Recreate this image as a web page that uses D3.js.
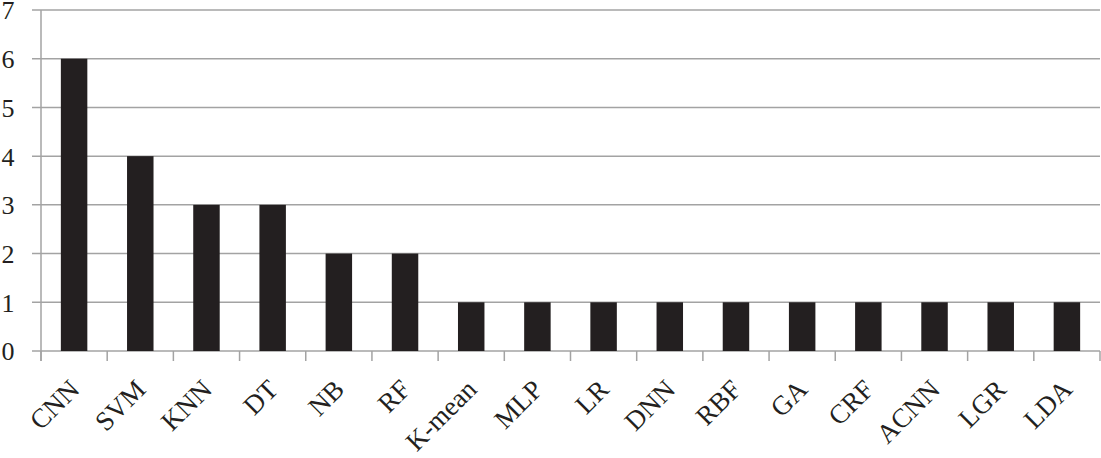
<!DOCTYPE html>
<html>
<head>
<meta charset="utf-8">
<script src="https://cdn.jsdelivr.net/npm/d3@7"></script>
<style>
  body { margin: 0; background: #fff; }
  text { font-family: "Liberation Serif", "DejaVu Serif", serif; fill: #231f20; }
</style>
</head>
<body>
<script>
// Data
let methods = ['CNN', 'SVM', 'KNN', 'DT', 'NB', 'RF', 'K-mean', 'MLP', 'LR', 'DNN', 'RBF', 'GA', 'CRF', 'ACNN', 'LGR', 'LDA'];
let counts = [6, 4, 3, 3, 2, 2, 1, 1, 1, 1, 1, 1, 1, 1, 1, 1];
let yTicks = [0, 1, 2, 3, 4, 5, 6, 7];

let width = 1101,
  height = 458;

let margin = { top: 10, bottom: 107, left: 41, right: 1 };

let svg = d3.select('body')
  .append('svg')
    .attr('width', width)
    .attr('height', height);

let xScale = d3.scaleBand()
  .domain(methods)
  .range([margin.left, width - margin.right])
  .paddingInner(0.6)
  .paddingOuter(0.3);

let yScale = d3.scaleLinear()
  .domain([0, 7])
  .range([height - margin.bottom, margin.top]);

let grey = '#a3a3a3';

// gridlines (extend a bit left of the axis, like tick marks)
svg.append('g')
  .selectAll('line')
  .data(yTicks)
  .enter()
  .append('line')
    .attr('x1', margin.left - 9)
    .attr('x2', width - margin.right)
    .attr('y1', d => yScale(d))
    .attr('y2', d => yScale(d))
    .attr('stroke', grey)
    .attr('stroke-width', 1.5);

// y axis line
svg.append('line')
  .attr('x1', margin.left)
  .attr('x2', margin.left)
  .attr('y1', yScale(7))
  .attr('y2', yScale(0) + 10)
  .attr('stroke', grey)
  .attr('stroke-width', 1.5);

// y labels
svg.append('g')
  .selectAll('text')
  .data(yTicks)
  .enter()
  .append('text')
    .attr('x', 8)
    .attr('y', d => yScale(d))
    .attr('dy', '0.36em')
    .attr('text-anchor', 'middle')
    .style('font-size', '26px')
    .text(d => d);

// x tick marks at band boundaries
let step = xScale.step();
let boundaries = d3.range(methods.length + 1).map(i => margin.left + i * step);
svg.append('g')
  .selectAll('line')
  .data(boundaries)
  .enter()
  .append('line')
    .attr('x1', d => d)
    .attr('x2', d => d)
    .attr('y1', yScale(0))
    .attr('y2', yScale(0) + 10)
    .attr('stroke', grey)
    .attr('stroke-width', 1.5);

// bars
svg.append('g')
  .selectAll('rect')
  .data(methods)
  .enter()
  .append('rect')
    .attr('x', d => xScale(d))
    .attr('y', (d, i) => yScale(counts[i]))
    .attr('width', xScale.bandwidth())
    .attr('height', (d, i) => yScale(0) - yScale(counts[i]))
    .attr('fill', '#231f20');

// x labels, rotated
svg.append('g')
  .selectAll('text')
  .data(methods)
  .enter()
  .append('text')
    .attr('text-anchor', 'end')
    .attr('transform', d => `translate(${xScale(d) + xScale.bandwidth() / 2 + 7},${yScale(0) + 40}) rotate(-45)`)
    .style('font-size', '27px')
    .text(d => d);
</script>
</body>
</html>
